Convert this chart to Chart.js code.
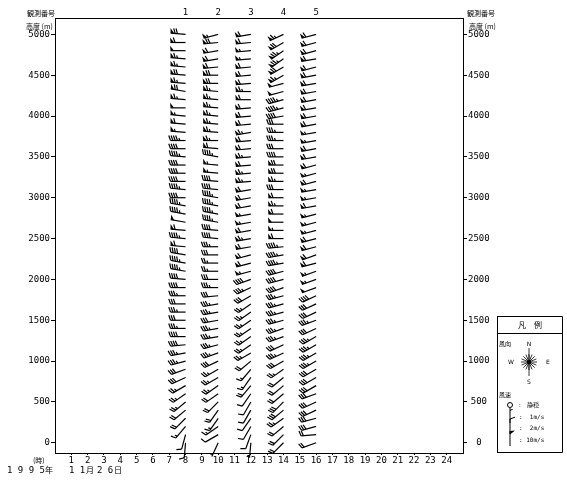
<!DOCTYPE html>
<html>
<head>
<meta charset="utf-8">
<script src="https://cdn.jsdelivr.net/npm/chart.js@4.4.0/dist/chart.umd.min.js"></script>
<style>
  html, body { margin: 0; padding: 0; background: #fff; }
  canvas { display: block; }
</style>
</head>
<body>
<canvas id="barbChart" width="567" height="480"></canvas>
<script>
// observation times (hour) and their numbers
const obsHours = [8, 10, 12, 14, 16];
const obsLabels = ["1", "2", "3", "4", "5"];

// heights (m), bottom to top
const heights = [0, 100, 200, 300, 400, 500, 600, 700, 800, 900,
  1000, 1100, 1200, 1300, 1400, 1500, 1600, 1700, 1800, 1900,
  2000, 2100, 2200, 2300, 2400, 2500, 2600, 2700, 2800, 2900,
  3000, 3100, 3200, 3300, 3400, 3500, 3600, 3700, 3800, 3900,
  4000, 4100, 4200, 4300, 4400, 4500, 4600, 4700, 4800, 4900, 5000];

// wind direction (deg, from) and speed (m/s) per observation
const dir1 = [185, 195, 220, 225, 230, 230, 235, 240, 245, 250,
  255, 260, 265, 270, 270, 270, 270, 270, 270, 270,
  275, 280, 280, 280, 275, 275, 275, 280, 280, 280,
  270, 275, 270, 270, 270, 275, 270, 270, 275, 275,
  275, 270, 275, 280, 275, 275, 275, 275, 270, 270, 275];
const spd1 = [2, 2, 3, 4, 4, 5, 5, 5, 6, 6,
  7, 7, 8, 8, 7, 6, 7, 6, 7, 8,
  8, 9, 9, 8, 12, 9, 12, 10, 9, 9,
  8, 9, 8, 8, 8, 9, 8, 9, 11, 12,
  11, 10, 13, 14, 13, 14, 13, 13, 10, 12, 14];

const dir2 = [205, 240, 235, 215, 215, 225, 235, 235, 240, 240,
  245, 250, 255, 260, 260, 260, 260, 260, 265, 270,
  270, 270, 270, 270, 270, 275, 275, 280, 280, 280,
  280, 275, 275, 275, 275, 280, 275, 270, 275, 275,
  275, 275, 275, 275, 270, 270, 265, 260, 260, 265, 255];
const spd2 = [1, 2, 3, 3, 4, 4, 4, 5, 5, 5,
  6, 7, 7, 7, 7, 6, 7, 7, 6, 7,
  6, 5, 5, 6, 7, 8, 8, 9, 9, 9,
  9, 8, 8, 11, 11, 9, 12, 13, 13, 13,
  13, 13, 13, 13, 14, 14, 12, 12, 12, 14, 11];

const dir3 = [185, 200, 210, 215, 210, 210, 215, 220, 215, 220,
  230, 240, 235, 235, 235, 235, 235, 235, 240, 245,
  250, 255, 255, 255, 260, 260, 260, 260, 260, 260,
  260, 260, 265, 265, 265, 265, 265, 265, 260, 265,
  265, 265, 270, 270, 265, 265, 265, 265, 265, 265, 260];
const spd3 = [1, 2, 2, 2, 2, 2, 2, 4, 3, 3,
  4, 5, 5, 5, 5, 5, 5, 5, 6, 7,
  8, 11, 12, 12, 12, 13, 12, 11, 11, 12,
  12, 12, 13, 13, 12, 13, 12, 12, 13, 12,
  12, 12, 12, 13, 12, 12, 12, 11, 11, 12, 12];

const dir4 = [225, 225, 230, 235, 230, 225, 230, 230, 230, 235,
  240, 245, 245, 250, 250, 255, 255, 255, 255, 250,
  255, 255, 260, 260, 265, 270, 270, 270, 270, 270,
  270, 270, 270, 270, 270, 270, 270, 270, 270, 270,
  260, 255, 255, 255, 255, 240, 240, 235, 235, 240, 245];
const spd4 = [4, 4, 4, 5, 6, 6, 4, 4, 4, 5,
  6, 7, 6, 7, 7, 7, 7, 7, 7, 8,
  8, 8, 9, 9, 9, 12, 11, 10, 12, 13,
  12, 6, 13, 14, 14, 8, 6, 7, 7, 6,
  8, 9, 9, 10, 10, 13, 14, 15, 15, 14, 13];

const dir5 = [250, 265, 255, 255, 245, 245, 250, 240, 240, 240,
  240, 240, 240, 240, 245, 250, 245, 245, 245, 250,
  250, 250, 255, 250, 255, 255, 255, 255, 255, 260,
  260, 260, 255, 255, 255, 260, 260, 260, 260, 260,
  260, 260, 260, 260, 260, 260, 255, 260, 255, 255, 255];
const spd5 = [4, 4, 6, 6, 6, 6, 6, 6, 6, 6,
  7, 7, 7, 7, 6, 7, 6, 6, 8, 10,
  11, 11, 12, 12, 12, 12, 11, 11, 11, 12,
  11, 11, 12, 11, 12, 12, 12, 11, 11, 12,
  12, 12, 12, 12, 12, 12, 12, 12, 12, 12, 12];

const dirs = [dir1, dir2, dir3, dir4, dir5];
const spds = [spd1, spd2, spd3, spd4, spd5];

// axis ticks
const hourTicks = [1, 2, 3, 4, 5, 6, 7, 8, 9, 10, 11, 12,
  13, 14, 15, 16, 17, 18, 19, 20, 21, 22, 23, 24];
const heightTicks = [0, 500, 1000, 1500, 2000, 2500, 3000, 3500, 4000, 4500, 5000];

const monoFont = { family: "'DejaVu Sans Mono', monospace", size: 9 };
const cjk = "'Noto Sans CJK JP', sans-serif";

function drawBarb(ctx, px, py, dir, spd) {
  const L = 15;
  const rad = dir * Math.PI / 180;
  const ux = Math.sin(rad), uy = -Math.cos(rad);
  const nx = -uy, ny = ux;
  if (spd < 0.5) {
    ctx.beginPath();
    ctx.arc(px, py, 3, 0, Math.PI * 2);
    ctx.stroke();
    return;
  }
  ctx.beginPath();
  ctx.moveTo(px, py);
  ctx.lineTo(px + ux * L, py + uy * L);
  ctx.stroke();
  let s = L;
  let rest = Math.round(spd);
  while (rest >= 10) {
    const bx = px + ux * s, by = py + uy * s;
    ctx.beginPath();
    ctx.moveTo(bx, by);
    ctx.lineTo(bx + nx * 5 + ux * 0.5, by + ny * 5 + uy * 0.5);
    ctx.lineTo(px + ux * (s - 3.5), py + uy * (s - 3.5));
    ctx.closePath();
    ctx.fill();
    s -= 4.5;
    rest -= 10;
  }
  while (rest >= 2) {
    const bx = px + ux * s, by = py + uy * s;
    ctx.beginPath();
    ctx.moveTo(bx, by);
    ctx.lineTo(bx + nx * 5 + ux * 1.8, by + ny * 5 + uy * 1.8);
    ctx.stroke();
    s -= 2.3;
    rest -= 2;
  }
  if (rest >= 1) {
    if (s === L) s -= 2.3;
    const bx = px + ux * s, by = py + uy * s;
    ctx.beginPath();
    ctx.moveTo(bx, by);
    ctx.lineTo(bx + nx * 2.6 + ux * 0.9, by + ny * 2.6 + uy * 0.9);
    ctx.stroke();
  }
}

const barbPlugin = {
  id: "barbs",
  beforeDraw(chart) {
    const ctx = chart.ctx;
    ctx.save();
    ctx.fillStyle = "#fff";
    ctx.fillRect(0, 0, chart.width, chart.height);
    ctx.restore();
  },
  afterDatasetsDraw(chart) {
    const ctx = chart.ctx;
    ctx.save();
    ctx.strokeStyle = "#000";
    ctx.fillStyle = "#000";
    ctx.lineWidth = 1.2;
    chart.data.datasets.forEach((ds, i) => {
      const meta = chart.getDatasetMeta(i);
      meta.data.forEach((pt, j) => {
        drawBarb(ctx, pt.x, pt.y, dirs[i][j], spds[i][j]);
      });
    });
    ctx.restore();
  },
  afterDraw(chart) {
    const ctx = chart.ctx;
    const area = chart.chartArea;
    const xs = chart.scales.x;
    ctx.save();
    ctx.strokeStyle = "#000";
    ctx.fillStyle = "#000";
    ctx.lineWidth = 1;

    // top line
    ctx.beginPath();
    ctx.moveTo(area.left, area.top + 0.5);
    ctx.lineTo(area.right, area.top + 0.5);
    ctx.stroke();

    // observation numbers
    ctx.font = "9px 'DejaVu Sans Mono', monospace";
    ctx.textAlign = "center";
    ctx.textBaseline = "alphabetic";
    obsHours.forEach((h, i) => {
      ctx.fillText(obsLabels[i], xs.getPixelForValue(h), 15);
    });

    // side captions
    ctx.font = "7px " + cjk;
    ctx.textAlign = "left";
    ctx.fillText("観測番号", 27, 16);
    ctx.fillText("高度 (m)", 26, 29);
    ctx.fillText("観測番号", 467, 16);
    ctx.fillText("高度 (m)", 469, 29);

    // time caption and date
    ctx.fillText("(時)", 33, 463);
    ctx.font = "9px 'DejaVu Sans Mono', monospace";
    ctx.fillText("1 9 9 5", 7, 473);
    ctx.fillText("1 1", 69, 473);
    ctx.fillText("2 6", 97, 473);
    ctx.font = "8px " + cjk;
    ctx.fillText("年", 45, 473);
    ctx.fillText("月", 86, 473);
    ctx.fillText("日", 114, 473);

    // legend box
    ctx.beginPath();
    ctx.moveTo(497, 316.5); ctx.lineTo(562.5, 316.5);
    ctx.moveTo(562.5, 316.5); ctx.lineTo(562.5, 452.5);
    ctx.moveTo(497, 452.5); ctx.lineTo(562.5, 452.5);
    ctx.moveTo(497.5, 316.5); ctx.lineTo(497.5, 452.5);
    ctx.moveTo(497, 333.5); ctx.lineTo(562.5, 333.5);
    ctx.stroke();

    ctx.font = "8px " + cjk;
    ctx.textAlign = "center";
    ctx.fillText("凡　例", 530, 328);
    ctx.textAlign = "left";
    ctx.font = "6px " + cjk;
    ctx.fillText("風向", 499, 346);
    ctx.fillText("風速", 499, 397);

    // compass
    const cx = 529, cy = 362;
    ctx.lineWidth = 0.8;
    ctx.beginPath();
    for (let k = 0; k < 16; k++) {
      const a = k * Math.PI / 8;
      ctx.moveTo(cx, cy);
      ctx.lineTo(cx + Math.sin(a) * 8, cy - Math.cos(a) * 8);
    }
    ctx.moveTo(cx, cy - 14); ctx.lineTo(cx, cy + 14);
    ctx.stroke();
    ctx.beginPath();
    ctx.arc(cx, cy, 2, 0, Math.PI * 2);
    ctx.fill();
    ctx.font = "6px 'DejaVu Sans', sans-serif";
    ctx.textAlign = "center";
    ctx.fillText("N", cx, 346);
    ctx.fillText("S", cx, 384);
    ctx.fillText("W", 511, 364);
    ctx.fillText("E", 548, 364);

    // speed symbols
    ctx.lineWidth = 1;
    ctx.beginPath();
    ctx.arc(510, 405, 2.5, 0, Math.PI * 2);
    ctx.stroke();
    drawBarb(ctx, 510, 423, 0, 1);
    drawBarb(ctx, 510, 434, 0, 2);
    drawBarb(ctx, 510, 446, 0, 10);
    ctx.font = "6px " + cjk;
    ctx.textAlign = "left";
    ctx.fillText(":", 519, 407);
    ctx.fillText("静穏", 527, 407);
    ctx.font = "6px 'DejaVu Sans Mono', monospace";
    ctx.fillText(":  1m/s", 519, 419);
    ctx.fillText(":  2m/s", 519, 430);
    ctx.fillText(": 10m/s", 519, 442);
    ctx.restore();
  }
};

const yAxis = (pos, width) => ({
  type: "linear",
  position: pos,
  min: -125,
  max: 5200,
  afterBuildTicks: s => { s.ticks = heightTicks.map(v => ({ value: v })); },
  afterFit: s => { s.width = width; },
  grid: { drawOnChartArea: false, tickLength: 4, color: "#000", tickWidth: 1 },
  border: { color: "#000", width: 1 },
  ticks: {
    font: monoFont, color: "#000", padding: 1,
    crossAlign: pos === "right" ? "center" : "near",
    callback: v => String(v)
  }
});

new Chart(document.getElementById("barbChart"), {
  type: "scatter",
  data: {
    datasets: obsHours.map((h, i) => ({
      label: obsLabels[i],
      data: heights.map(z => ({ x: h, y: z })),
      pointRadius: 0,
      showLine: false
    }))
  },
  options: {
    responsive: false,
    animation: false,
    layout: { padding: { top: 18 } },
    plugins: { legend: { display: false }, tooltip: { enabled: false } },
    scales: {
      x: {
        type: "linear",
        min: 0,
        max: 25,
        afterBuildTicks: s => { s.ticks = hourTicks.map(v => ({ value: v })); },
        afterFit: s => { s.height = 27; },
        grid: { drawOnChartArea: false, tickLength: 2, color: "#000" },
        border: { color: "#000", width: 1 },
        ticks: { font: monoFont, color: "#000", padding: 0, maxRotation: 0, autoSkip: false, callback: v => String(v) }
      },
      y: yAxis("left", 55),
      y2: yAxis("right", 104)
    }
  },
  plugins: [barbPlugin]
});
</script>
</body>
</html>
